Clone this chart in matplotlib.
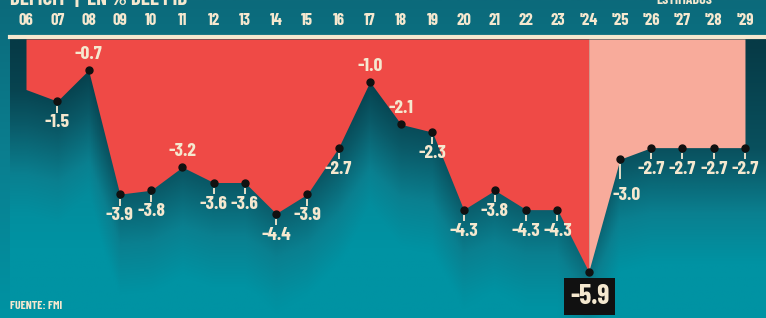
import numpy as np
import matplotlib
matplotlib.use("Agg")
import matplotlib.pyplot as plt
from matplotlib.colors import LinearSegmentedColormap

plt.rcParams['font.family'] = ['Barlow Condensed', 'DejaVu Sans']
plt.rcParams['font.weight'] = 'bold'

years = ['06', '07', '08', '09', '10', '11', '12', '13', '14', '15', '16', '17',
         '18', '19', '20', '21', '22', '23', "'24", "'25", "'26", "'27", "'28", "'29"]
deficit = [-1.2, -1.5, -0.7, -3.9, -3.8, -3.2, -3.6, -3.6, -4.4, -3.9, -2.7, -1.0,
           -2.1, -2.3, -4.3, -3.8, -4.3, -4.3, -5.9, -3.0, -2.7, -2.7, -2.7, -2.7]
labels = ['', '-1.5', '-0.7', '-3.9', '-3.8', '-3.2', '-3.6', '-3.6', '-4.4', '-3.9', '-2.7', '-1.0',
          '-2.1', '-2.3', '-4.3', '-3.8', '-4.3', '-4.3', '-5.9', '-3.0', '-2.7', '-2.7', '-2.7', '-2.7']
above = ['-0.7', '-3.2', '-1.0', '-2.1']
first_estimate = 18

cream = '#f5e8cf'
red = '#ef4a46'
pink = '#f8ab9b'

W, H = 766, 318
fig = plt.figure(figsize=(W / 100, H / 100), dpi=100)

# background gradient
bg = fig.add_axes([0, 0, 1, 1])
bg.axis('off')
bg_cmap = LinearSegmentedColormap.from_list('bg', ['#0c6a7b', '#0a7f90', '#0093a3'])
bg.imshow(np.linspace(0, 1, 200).reshape(-1, 1), aspect='auto', cmap=bg_cmap,
          extent=[0, 1, 0, 1], origin='upper')
bg.set_xlim(0, 1)
bg.set_ylim(0, 1)

# main axes: x index 0 at px 26, step 31.26 px; y=0 at px 43, 38.75 px/unit
left_px, top_px = 10, 39
ax = fig.add_axes([left_px / W, 0, 1 - left_px / W, 1 - top_px / H])
x0 = (left_px - 26) / 31.26
x1 = (W - 26) / 31.26
ytop = (43 - top_px) / 38.75
ybot = -(H - 43) / 38.75
ax.set_xlim(x0, x1)
ax.set_ylim(ybot, ytop)
ax.patch.set_alpha(0)

x = np.arange(len(deficit))
vals = np.array(deficit)

# shaded panel under the line
gx = np.linspace(x0, x1, 400)
gy = np.linspace(ytop, ybot, 300)
GX, GY = np.meshgrid(gx, gy)
line_y = np.interp(GX, x, vals)
depth = np.clip((line_y - GY) / 3.2, 0, 1)
vert = np.clip(-GY / 6.5, 0, 1)
t = np.clip(0.55 * depth + 0.55 * vert, 0, 1)
panel_cmap = LinearSegmentedColormap.from_list('panel', ['#063a46', '#0a5a68', '#0a8090', '#0093a3'])
ax.imshow(t, aspect='auto', cmap=panel_cmap, extent=[x0, x1, ybot, ytop], origin='upper', zorder=0)

ax.fill_between(x[:first_estimate + 1], vals[:first_estimate + 1], ytop, color=red, lw=0, zorder=1)
ax.fill_between(x[first_estimate:], vals[first_estimate:], ytop, color=pink, lw=0, zorder=1)

ax.plot(x[1:], vals[1:], 'o', color='#111111', ms=5, zorder=3)

for xi, v, lab in zip(x, vals, labels):
    if not lab:
        continue
    if lab in above:
        ax.text(xi, v + 0.18, lab, ha='center', va='bottom', color=cream, fontsize=14, zorder=4)
    elif xi == first_estimate:
        ax.text(xi + 0.03, v - 0.32, lab, ha='center', va='top', color=cream, fontsize=20,
                zorder=4, bbox=dict(boxstyle='square,pad=0.22', fc='#111111', ec='none'))
    elif xi == first_estimate + 1:
        ax.vlines(xi, v - 0.13, v - 0.5, color=cream, lw=1.3, zorder=3)
        ax.text(xi + 0.2, v - 0.72, lab, ha='center', va='top', color=cream, fontsize=14, zorder=4)
    else:
        ax.vlines(xi, v - 0.13, v - 0.3, color=cream, lw=1.3, zorder=3)
        ax.text(xi, v - 0.34, lab, ha='center', va='top', color=cream, fontsize=14, zorder=4)

ax.set_xticks(x)
ax.set_xticklabels(years, color=cream, fontsize=12)
ax.xaxis.tick_top()
ax.tick_params(axis='x', length=0, pad=8)
ax.set_yticks([])
for s in ax.spines.values():
    s.set_visible(False)

# cream rule under the header
fig.add_artist(plt.Line2D([left_px / W, 1], [1 - 37 / H, 1 - 37 / H], color=cream, lw=3))

fig.text(10 / W, 1 - 5 / H, 'DÉFICIT  |  EN % DEL PIB', color=cream, fontsize=15, va='baseline')
fig.text(684 / W, 1 - 4 / H, 'ESTIMADOS', color=cream, fontsize=10, va='baseline', ha='center')
fig.text(10 / W, 12 / H, 'FUENTE: FMI', color=cream, fontsize=8.5, va='center')

fig.savefig('out.png', dpi=100)
